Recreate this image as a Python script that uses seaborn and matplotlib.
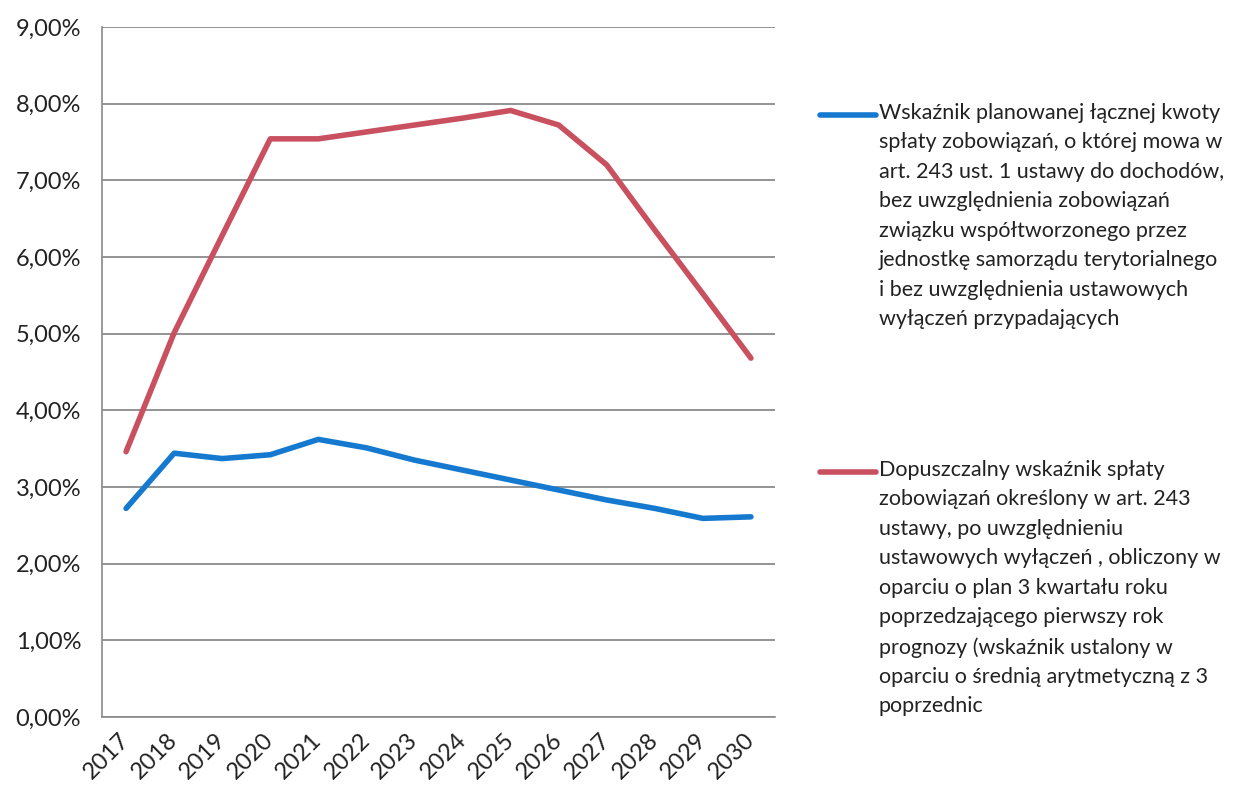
import pandas as pd
import numpy as np
import matplotlib.pyplot as plt
from matplotlib.lines import Line2D
import seaborn as sns

# data (percent)
years = ['2017', '2018', '2019', '2020', '2021', '2022', '2023',
         '2024', '2025', '2026', '2027', '2028', '2029', '2030']
planned = [2.72, 3.44, 3.37, 3.42, 3.62, 3.51, 3.35,
           3.22, 3.09, 2.96, 2.83, 2.72, 2.59, 2.61]
allowed = [3.46, 5.01, 6.28, 7.54, 7.54, 7.63, 7.72,
           7.81, 7.91, 7.72, 7.20, 6.35, 5.52, 4.68]

label_planned = ("Wskaźnik planowanej łącznej kwoty\n"
                 "spłaty zobowiązań, o której mowa w\n"
                 "art. 243 ust. 1 ustawy do dochodów,\n"
                 "bez uwzględnienia zobowiązań\n"
                 "związku współtworzonego przez\n"
                 "jednostkę samorządu terytorialnego\n"
                 "i bez uwzględnienia ustawowych\n"
                 "wyłączeń przypadających")
label_allowed = ("Dopuszczalny wskaźnik spłaty\n"
                 "zobowiązań określony w art. 243\n"
                 "ustawy, po uwzględnieniu\n"
                 "ustawowych wyłączeń , obliczony w\n"
                 "oparciu o plan 3 kwartału roku\n"
                 "poprzedzającego pierwszy rok\n"
                 "prognozy (wskaźnik ustalony w\n"
                 "oparciu o średnią arytmetyczną z 3\n"
                 "poprzednic")

colors = ['#1679d0', '#c9505f']

df = pd.DataFrame({
    'pos': list(range(len(years))) * 2,
    'value': planned + allowed,
    'series': ['planned'] * len(years) + ['allowed'] * len(years),
})

sns.set_style('white')
plt.rcParams['font.family'] = ['Lato', 'DejaVu Sans']

fig = plt.figure(figsize=(12.34, 7.91), dpi=100)
ax = fig.add_axes([0.0827, 0.0936, 0.5453, 0.8724])

sns.lineplot(data=df, x='pos', y='value', hue='series',
             palette=colors, linewidth=4.0, legend=False, ax=ax,
             solid_capstyle='round')

ax.set_xlim(-0.5, len(years) - 0.5)
ax.set_ylim(0, 9)
ax.set_yticks(np.arange(0, 10, 1))
ax.set_yticklabels([f'{v:.2f}%'.replace('.', ',') for v in range(10)], fontsize=17, color='#222222')
ax.set_xticks(range(len(years)))
ax.set_xticklabels(years, rotation=45, ha='right', va='center', rotation_mode='anchor',
                   fontsize=17, color='#222222')
ax.set_xticks(np.arange(-0.5, len(years), 1), minor=True)
ax.tick_params(axis='x', which='major', length=0, pad=14)
ax.tick_params(axis='x', which='minor', length=4, width=1, color='#888888', direction='out')
ax.tick_params(axis='y', length=4, width=1, color='#888888', direction='out', pad=11)
ax.set_xlabel('')
ax.set_ylabel('')

ax.grid(axis='y', color='#8a8a8a', linewidth=1.3)
ax.set_axisbelow(True)
for s in ['top', 'right']:
    ax.spines[s].set_visible(False)
for s in ['left', 'bottom']:
    ax.spines[s].set_color('#8a8a8a')
    ax.spines[s].set_linewidth(1.2)

# legend drawn on the right, handle aligned with first text line
W, H = 1234, 791
for label, color, yhandle in [(label_planned, colors[0], 115), (label_allowed, colors[1], 472)]:
    fig.add_artist(Line2D([820 / W, 876 / W], [1 - yhandle / H, 1 - yhandle / H],
                          color=color, linewidth=4.0, solid_capstyle='round'))
    fig.text(879 / W, 1 - (yhandle - 12) / H, label, fontsize=15.5, color='#222222',
             va='top', ha='left', linespacing=1.59)

fig.savefig('out.png', dpi=100, facecolor='white')
